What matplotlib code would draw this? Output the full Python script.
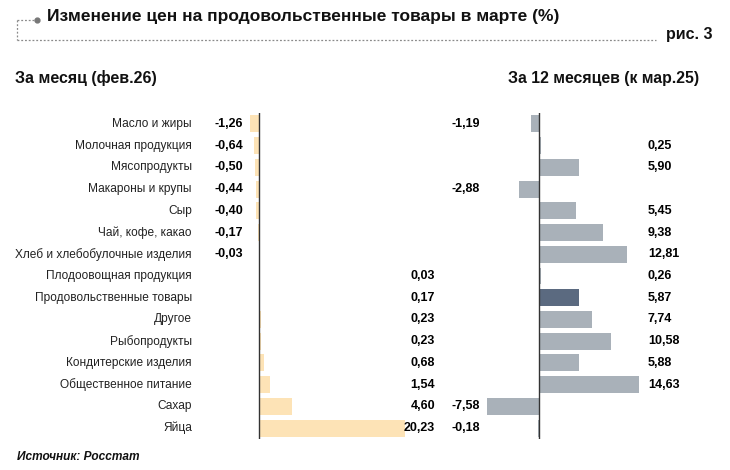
import matplotlib
matplotlib.use("Agg")
import matplotlib.pyplot as plt
from matplotlib.lines import Line2D
from matplotlib import transforms

plt.rcParams["font.family"] = ["Liberation Sans", "DejaVu Sans"]

categories = [
    "Масло и жиры", "Молочная продукция", "Мясопродукты", "Макароны и крупы",
    "Сыр", "Чай, кофе, какао", "Хлеб и хлебобулочные изделия",
    "Плодоовощная продукция", "Продовольственные товары", "Другое",
    "Рыбопродукты", "Кондитерские изделия", "Общественное питание",
    "Сахар", "Яйца",
]
month_values = [-1.26, -0.64, -0.50, -0.44, -0.40, -0.17, -0.03,
                0.03, 0.17, 0.23, 0.23, 0.68, 1.54, 4.60, 20.23]
year_values = [-1.19, 0.25, 5.90, -2.88, 5.45, 9.38, 12.81,
               0.26, 5.87, 7.74, 10.58, 5.88, 14.63, -7.58, -0.18]
highlight = "Продовольственные товары"

title = "Изменение цен на продовольственные товары в марте (%)"
fig_label = "рис. 3"
left_title = "За месяц (фев.26)"
right_title = "За 12 месяцев (к мар.25)"
source = "Источник: Росстат"

W, H = 730, 470
fig = plt.figure(figsize=(W / 100, H / 100), dpi=100)


def px(x, y):
    return x / W, 1 - y / H


def fmt(v):
    return f"{v:.2f}".replace(".", ",")


top, bottom = 113, 439
ax_l = fig.add_axes([244.6 / W, 1 - bottom / H, 165.6 / W, (bottom - top) / H])
ax_r = fig.add_axes([484.2 / W, 1 - bottom / H, 161 / W, (bottom - top) / H])

rows = list(range(len(categories)))
l_colors = ["#c9a43a" if c == highlight else "#fde3b6" for c in categories]
r_colors = ["#5b6a80" if c == highlight else "#a9b1b9" for c in categories]

ax_l.barh(rows, month_values, height=0.78, color=l_colors)
ax_r.barh(rows, year_values, height=0.78, color=r_colors)
ax_l.set_xlim(-2, 21)
ax_r.set_xlim(-8, 15.5)

for ax in (ax_l, ax_r):
    ax.set_ylim(len(categories) - 0.5, -0.5)
    ax.axis("off")
    ax.axvline(0, color="#333333", lw=1.0)

tl = transforms.blended_transform_factory(fig.transFigure, ax_l.transData)
tr = transforms.blended_transform_factory(fig.transFigure, ax_r.transData)
vsize = 9
for i, (cat, mv, yv) in enumerate(zip(categories, month_values, year_values)):
    fig.text(192 / W, i, cat, transform=tl, ha="right", va="center",
             fontsize=8.6, color="#222222")
    if mv < 0:
        fig.text(243 / W, i, fmt(mv), transform=tl, ha="right", va="center",
                 fontsize=vsize, fontweight="bold")
    else:
        fig.text(435 / W, i, fmt(mv), transform=tl, ha="right", va="center",
                 fontsize=vsize, fontweight="bold")
    if yv < 0:
        fig.text(452 / W, i, fmt(yv), transform=tr, ha="left", va="center",
                 fontsize=vsize, fontweight="bold")
    else:
        fig.text(648 / W, i, fmt(yv), transform=tr, ha="left", va="center",
                 fontsize=vsize, fontweight="bold")

# header
fig.text(*px(47, 17), title, ha="left", va="center", fontsize=12.5,
         fontweight="bold", color="#111111")
fig.text(*px(713, 35), fig_label, ha="right", va="center", fontsize=11.5,
         fontweight="bold", color="#111111")
dot = dict(color="#8a8a8a", lw=0.9, ls=(0, (1.5, 1.5)), transform=fig.transFigure)
for xs, ys in [((17, 35), (20, 20)), ((17, 17), (20, 40)), ((17, 656), (40, 40))]:
    x0, y0 = px(xs[0], ys[0])
    x1, y1 = px(xs[1], ys[1])
    fig.add_artist(Line2D([x0, x1], [y0, y1], **dot))
fig.add_artist(Line2D([37 / W], [1 - 20 / H], marker="o", ms=3.5,
                      color="#777777", transform=fig.transFigure))

fig.text(*px(15, 78), left_title, ha="left", va="center", fontsize=11.5,
         fontweight="bold", color="#111111")
fig.text(*px(508, 78), right_title, ha="left", va="center", fontsize=11.4,
         fontweight="bold", color="#111111")
fig.text(*px(17, 457), source, ha="left", va="center", fontsize=8.6,
         fontweight="bold", style="italic", color="#111111")

fig.savefig("out.png", dpi=100)
